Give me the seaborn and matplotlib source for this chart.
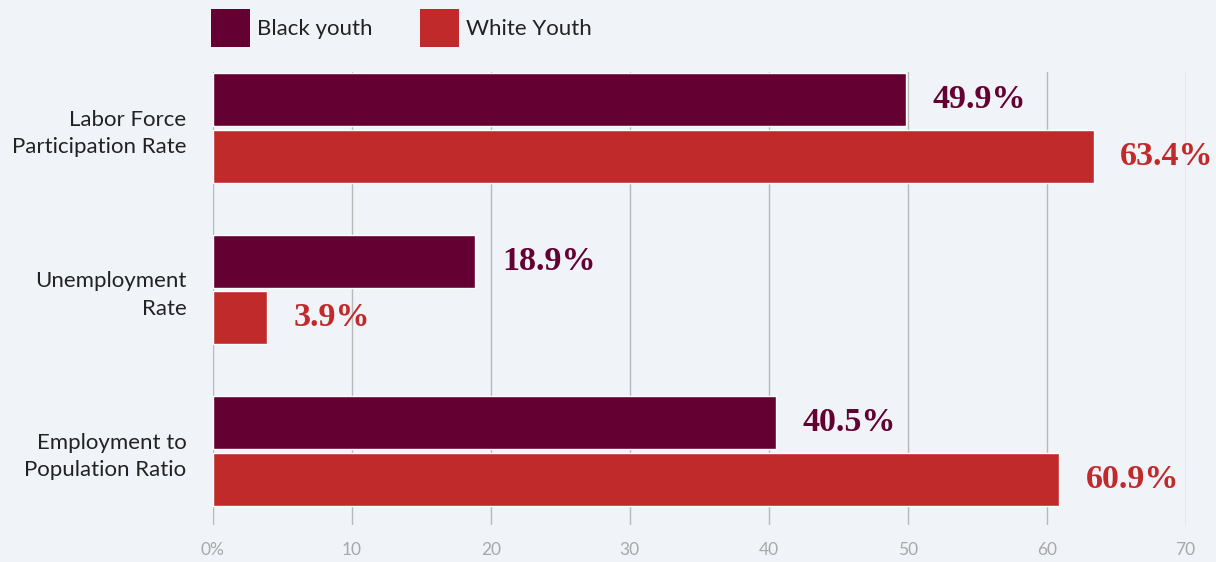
import pandas as pd
import matplotlib.pyplot as plt
import seaborn as sns
from matplotlib.patches import Patch

# Chart data
categories = ["Labor Force\nParticipation Rate", "Unemployment\nRate", "Employment to\nPopulation Ratio"]
groups = ["Black youth", "White Youth"]
black_youth = [49.9, 18.9, 40.5]
white_youth = [63.4, 3.9, 60.9]
x_ticks = [0, 10, 20, 30, 40, 50, 60, 70]
x_tick_labels = ["0%", "10", "20", "30", "40", "50", "60", "70"]

colors = ["#640032", "#c12a2b"]
bg = "#f0f4f8"

df = pd.DataFrame({
    "category": categories * 2,
    "group": [groups[0]] * 3 + [groups[1]] * 3,
    "value": black_youth + white_youth,
})

sns.set_style("white")
plt.rcParams['font.family'] = ['Lato', 'DejaVu Sans']

fig = plt.figure(figsize=(12.16, 5.62), dpi=100, facecolor=bg)
ax = fig.add_axes([0.175, 0.066, 0.800, 0.806])
ax.set_facecolor(bg)

sns.barplot(data=df, y="category", x="value", hue="group", orient="h",
            palette=colors, width=0.7, gap=0.06, saturation=1,
            legend=False, ax=ax, zorder=3)

# value labels
for container, vals, col in zip(ax.containers, [black_youth, white_youth], colors):
    ax.bar_label(container, labels=[f"{v:.1f}%" for v in vals], padding=19,
                 color=col, fontsize=24.5, fontweight='bold',
                 family=['Liberation Serif', 'DejaVu Serif'])

ax.set_xlim(0, 70)
ax.set_ylim(2.458, -0.347)
ax.set_xticks(x_ticks)
ax.set_xticklabels(x_tick_labels, color="#a8a8a8", fontsize=12.5)
ax.tick_params(axis='x', length=0, pad=12)
ax.tick_params(axis='y', length=0, pad=19, labelsize=16, labelcolor="#222222")
for lbl in ax.get_yticklabels():
    lbl.set_linespacing(1.45)
ax.grid(axis='x', color="#b8b8b8", linewidth=1, zorder=0)
ax.set_axisbelow(True)
for s in ax.spines.values():
    s.set_visible(False)
ax.set_xlabel("")
ax.set_ylabel("")

handles = [Patch(facecolor=c, edgecolor='none') for c in colors]
fig.legend(handles, groups, loc='upper left', bbox_to_anchor=(0.157, 1.019),
           ncol=2, frameon=False, fontsize=16, handlelength=1.75, handleheight=2.25,
           handletextpad=0.32, columnspacing=2.16, labelcolor="#222222")

fig.savefig("out.png", dpi=100, facecolor=bg)
